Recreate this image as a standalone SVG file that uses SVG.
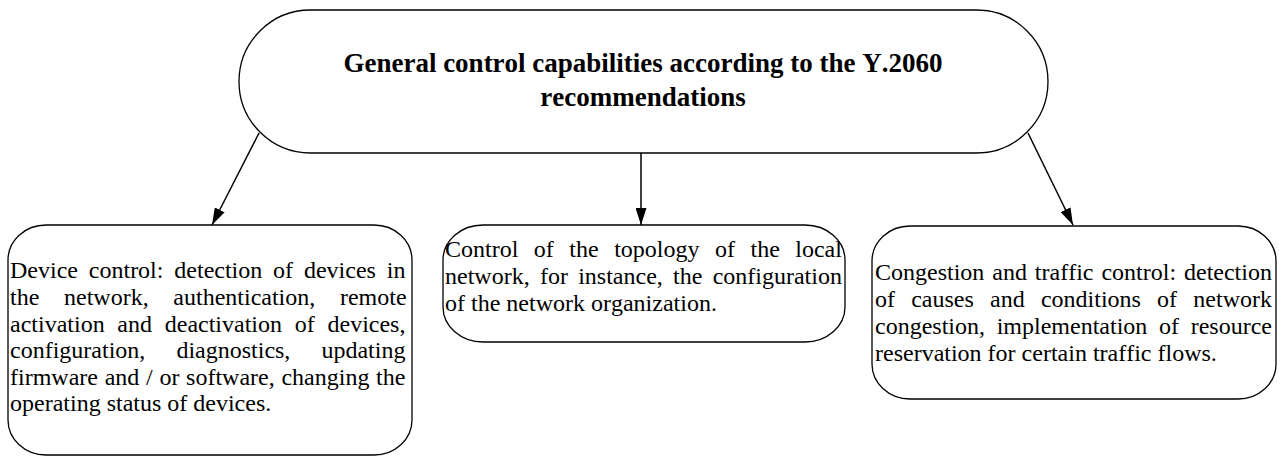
<svg xmlns="http://www.w3.org/2000/svg" width="1283" height="456" viewBox="0 0 1283 456">
  <style>
    .box { fill: #ffffff; stroke: #000000; stroke-width: 1.3; }
    .edge { fill: none; stroke: #000000; stroke-width: 1.5; }
    .title { font-family: "Liberation Serif", "Times New Roman", serif; font-size: 27px; font-weight: bold; fill: #000000; text-anchor: middle; font-kerning: none; }
    .body { font-family: "Liberation Serif", "Times New Roman", serif; font-size: 24px; fill: #000000; font-kerning: none; }
  </style>
  <defs>
    <marker id="arrow" viewBox="0 0 17 11" refX="17" refY="5.5" markerWidth="17" markerHeight="11" markerUnits="userSpaceOnUse" orient="auto">
      <path d="M0,0 L17,5.5 L0,11 Z" fill="#000000"/>
    </marker>
  </defs>
  <rect width="1283" height="456" fill="#ffffff"/>

  <!-- connectors -->
  <g id="connectors">
    <line class="edge" x1="259" y1="133" x2="212" y2="225" marker-end="url(#arrow)"/>
    <line class="edge" x1="641" y1="153" x2="641" y2="225" marker-end="url(#arrow)"/>
    <line class="edge" x1="1028" y1="133" x2="1073" y2="225" marker-end="url(#arrow)"/>
  </g>

  <!-- root capability node -->
  <g id="node-general">
    <rect class="box" x="239" y="10" width="809" height="143" rx="71.5" ry="71.5"/>
    <text class="title" x="643" y="72">General control capabilities according to the Y.2060</text>
    <text class="title" x="643" y="106">recommendations</text>
  </g>

  <!-- device control -->
  <g id="node-device">
    <rect class="box" x="8" y="225" width="404" height="230" rx="38" ry="35"/>
    <text class="body" x="10" y="278" word-spacing="4.85">Device control: detection of devices in</text>
    <text class="body" x="10" y="305" word-spacing="18.68">the network, authentication, remote</text>
    <text class="body" x="10" y="332" word-spacing="6.73">activation and deactivation of devices,</text>
    <text class="body" x="10" y="358" word-spacing="25.09">configuration, diagnostics, updating</text>
    <text class="body" x="10" y="385" word-spacing="0.71">firmware and / or software, changing the</text>
    <text class="body" x="10" y="411">operating status of devices.</text>
  </g>

  <!-- topology control -->
  <g id="node-topology">
    <rect class="box" x="443" y="225" width="402" height="117" rx="40" ry="35"/>
    <text class="body" x="445" y="257" word-spacing="9.50">Control of the topology of the local</text>
    <text class="body" x="445" y="284" word-spacing="4.27">network, for instance, the configuration</text>
    <text class="body" x="445" y="311">of the network organization.</text>
  </g>

  <!-- congestion and traffic control -->
  <g id="node-congestion">
    <rect class="box" x="872" y="226" width="404" height="173" rx="38" ry="35"/>
    <text class="body" x="875" y="280" word-spacing="1.93">Congestion and traffic control: detection</text>
    <text class="body" x="875" y="307" word-spacing="10.21">of causes and conditions of network</text>
    <text class="body" x="875" y="334" word-spacing="5.69">congestion, implementation of resource</text>
    <text class="body" x="875" y="361">reservation for certain traffic flows.</text>
  </g>
</svg>
